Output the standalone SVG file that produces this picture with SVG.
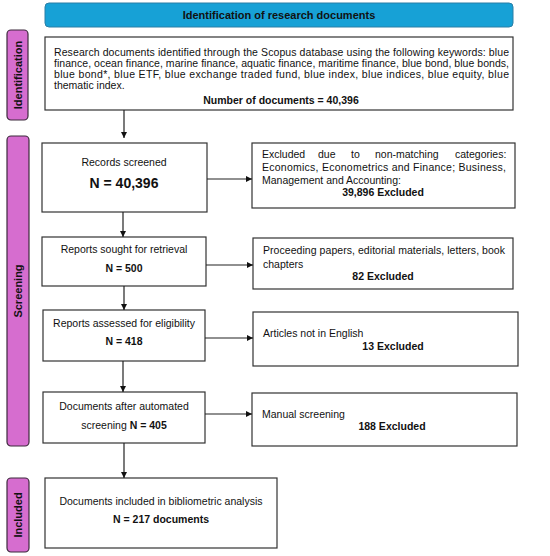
<svg xmlns="http://www.w3.org/2000/svg" width="550" height="556" viewBox="0 0 550 556">
<style>
text{font-family:"Liberation Sans",Arial,sans-serif;font-size:10.5px;fill:#111}
.b{font-weight:bold}
.c{text-anchor:middle}
.box{fill:#fff;stroke:#333;stroke-width:1.2}
.side{fill:#d66dcf;stroke:#3d2a3c;stroke-width:1.2}
.lbl{font-weight:bold;font-size:11px;text-anchor:middle}
.con line{stroke:#222;stroke-width:1.2;marker-end:url(#ah)}
</style>
<defs>
<marker id="ah" viewBox="0 0 10 10" refX="10" refY="5" markerWidth="6" markerHeight="6" markerUnits="userSpaceOnUse" orient="auto">
<path d="M0,0 L10,5 L0,10 z" fill="#111"/>
</marker>
</defs>
<rect width="550" height="556" fill="#fff"/>

<g id="header">
<rect x="45" y="3" width="468" height="24" rx="4" fill="#17a1d6" stroke="#2b7fa6" stroke-width="1"/>
<text class="b c" x="279" y="19" style="font-size:11px">Identification of research documents</text>
</g>

<g id="side-identification">
<rect class="side" x="7" y="30" width="21" height="90" rx="4"/>
<text class="lbl" transform="translate(21.5,75) rotate(-90)">Identification</text>
</g>
<g id="side-screening">
<rect class="side" x="7" y="136" width="22" height="310" rx="4"/>
<text class="lbl" transform="translate(22,291) rotate(-90)">Screening</text>
</g>
<g id="side-included">
<rect class="side" x="7" y="478" width="22" height="74" rx="4"/>
<text class="lbl" transform="translate(22,515) rotate(-90)">Included</text>
</g>

<g id="identification">
<rect class="box" x="45" y="37" width="468" height="73"/>
<text x="54" y="56" textLength="455" lengthAdjust="spacing">Research documents identified through the Scopus database using the following keywords: blue</text>
<text x="54" y="67" textLength="455" lengthAdjust="spacing">finance, ocean finance, marine finance, aquatic finance, maritime finance, blue bond, blue bonds,</text>
<text x="54" y="78" textLength="455" lengthAdjust="spacing">blue bond*, blue ETF, blue exchange traded fund, blue index, blue indices, blue equity, blue</text>
<text x="54" y="89">thematic index.</text>
<text class="b c" x="281" y="104">Number of documents = 40,396</text>
</g>

<g id="records">
<rect class="box" x="42" y="143" width="165" height="69"/>
<text class="c" x="124" y="166">Records screened</text>
<text class="b c" x="124" y="188" style="font-size:14px">N = 40,396</text>
</g>
<g id="excl1">
<rect class="box" x="252" y="143" width="263" height="65"/>
<text y="158"><tspan x="262">Excluded</tspan><tspan x="318">due</tspan><tspan x="351">to</tspan><tspan x="375">non-matching</tspan><tspan x="455">categories:</tspan></text>
<text x="262" y="171" textLength="244" lengthAdjust="spacing">Economics, Econometrics and Finance; Business,</text>
<text x="262" y="184">Management and Accounting:</text>
<text class="b c" x="383" y="196">39,896 Excluded</text>
</g>

<g id="sought">
<rect class="box" x="42" y="237" width="164" height="49"/>
<text class="c" x="124" y="253">Reports sought for retrieval</text>
<text class="b c" x="124" y="272">N = 500</text>
</g>
<g id="excl2">
<rect class="box" x="253" y="238" width="260" height="51"/>
<text x="263" y="254" textLength="242" lengthAdjust="spacing">Proceeding papers, editorial materials, letters, book</text>
<text x="263" y="268">chapters</text>
<text class="b c" x="383" y="280">82 Excluded</text>
</g>

<g id="assessed">
<rect class="box" x="43" y="310" width="162" height="51"/>
<text class="c" x="124" y="327">Reports assessed for eligibility</text>
<text class="b c" x="124" y="345">N = 418</text>
</g>
<g id="excl3">
<rect class="box" x="253" y="312" width="265" height="54"/>
<text x="263" y="337">Articles not in English</text>
<text class="b c" x="393" y="350">13 Excluded</text>
</g>

<g id="automated">
<rect class="box" x="43" y="392" width="162" height="51"/>
<text class="c" x="124" y="410">Documents after automated</text>
<text class="c" x="124" y="429">screening <tspan class="b">N = 405</tspan></text>
</g>
<g id="excl4">
<rect class="box" x="252" y="393" width="265" height="53"/>
<text x="262" y="418">Manual screening</text>
<text class="b c" x="392" y="430">188 Excluded</text>
</g>

<g id="included">
<rect class="box" x="45" y="478" width="232" height="70"/>
<text class="c" x="161" y="505">Documents included in bibliometric analysis</text>
<text class="b c" x="161" y="523">N = 217 documents</text>
</g>

<g id="connectors" class="con">
<line x1="124" y1="110" x2="124" y2="138"/>
<line x1="123" y1="212" x2="123" y2="237"/>
<line x1="124" y1="286" x2="124" y2="310"/>
<line x1="123" y1="361" x2="123" y2="392"/>
<line x1="124" y1="443" x2="124" y2="478"/>
<line x1="207" y1="179" x2="252" y2="179"/>
<line x1="206" y1="265" x2="253" y2="265"/>
<line x1="205" y1="338" x2="253" y2="338"/>
<line x1="205" y1="414" x2="252" y2="414"/>
</g>
</svg>
